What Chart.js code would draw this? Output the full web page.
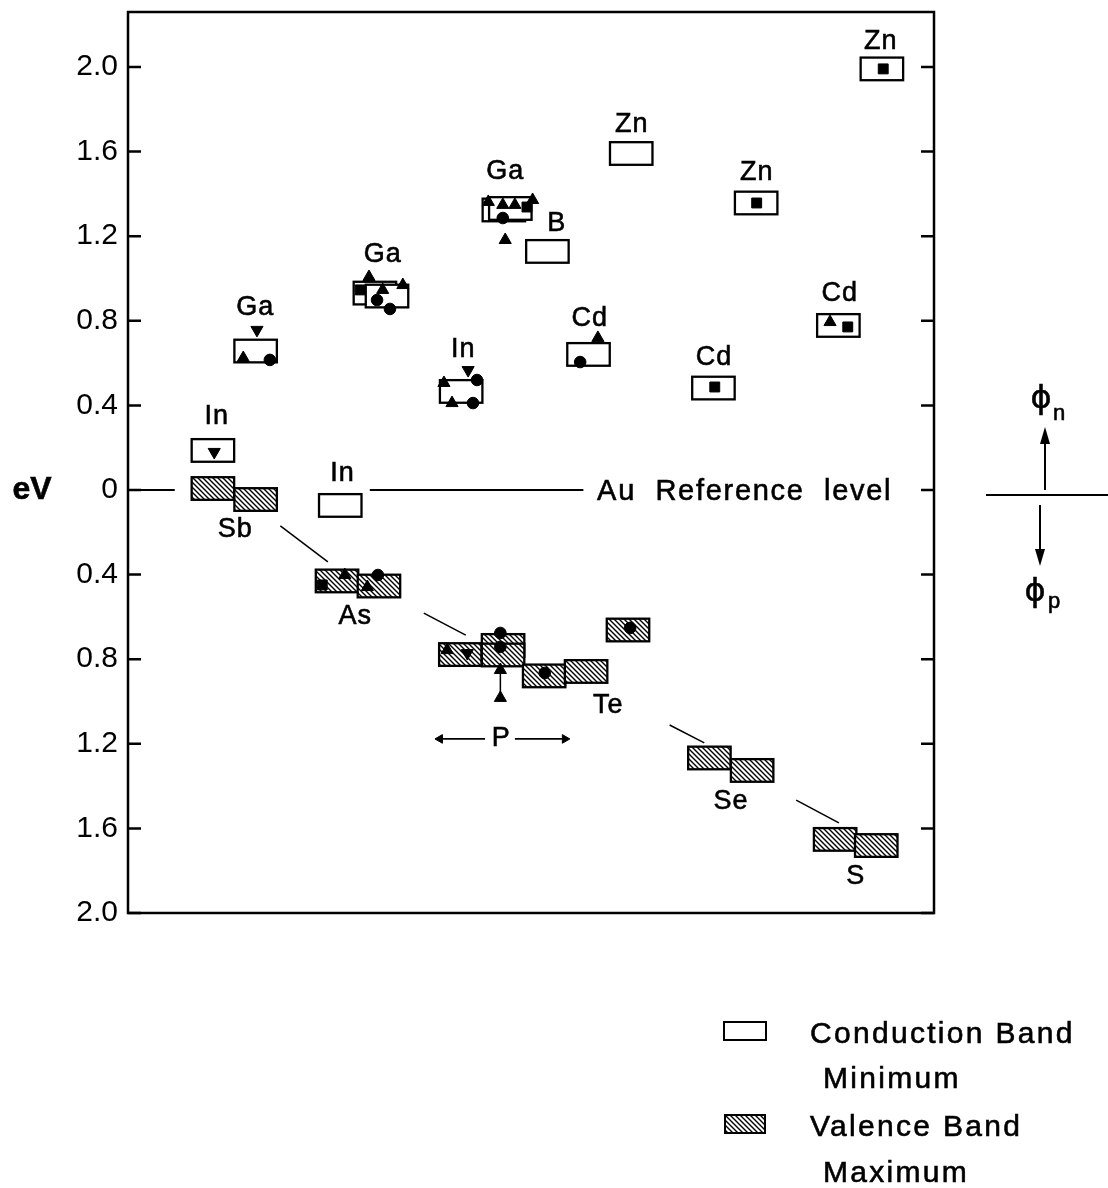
<!DOCTYPE html>
<html>
<head>
<meta charset="utf-8">
<script src="https://cdn.jsdelivr.net/npm/chart.js@4.4.1/dist/chart.umd.min.js"></script>
<style>
  body { margin: 0; background: #fff; }
  canvas { display: block; }
</style>
</head>
<body>
<canvas id="main_chart" width="1108" height="1188"></canvas>
<script>
// band edges relative to the Au reference level (eV)
const cbCompounds = ['InSb', 'GaSb', 'GaAs', 'GaAs', 'InAs', 'InP', 'GaP', 'GaP', 'BP', 'CdTe', 'ZnTe', 'CdSe', 'ZnSe', 'CdS', 'ZnS'];
const cbX = [7.9, 13.2, 28.0, 29.5, 23.7, 38.7, 44.0, 44.8, 49.4, 54.5, 59.8, 70.0, 75.3, 85.5, 90.9];
const cbValues = [0.187, 0.657, 0.931, 0.917, -0.073, 0.466, 1.324, 1.331, 1.128, 0.641, 1.591, 0.482, 1.357, 0.778, 1.991];

const vbCompounds = ['InSb', 'GaSb', 'InAs', 'GaAs', 'InP', 'GaP', 'GaP', 'BP', 'CdTe', 'ZnTe', 'CdSe', 'ZnSe', 'CdS', 'ZnS'];
const vbX = [7.9, 13.2, 23.3, 28.5, 38.6, 43.9, 43.9, 49.0, 54.2, 59.4, 69.5, 74.8, 85.1, 90.2];
const vbValues = [0.007, -0.045, -0.430, -0.454, -0.778, -0.735, -0.780, -0.879, -0.858, -0.662, -1.267, -1.326, -1.652, -1.681];

// measured points (one array pair per symbol)
const triUpX = [14.3, 29.9, 34.1, 31.6, 39.2, 40.2, 44.7, 46.5, 48.0, 50.2, 46.8, 58.3, 87.1, 26.9, 29.7, 39.6, 46.2, 46.2];
const triUpY = [0.624, 1.007, 0.969, 0.946, 0.506, 0.411, 1.362, 1.348, 1.348, 1.371, 1.182, 0.719, 0.794, -0.402, -0.459, -0.757, -0.851, -0.983];
const triDownX = [10.7, 16.0, 42.2, 42.1];
const triDownY = [0.180, 0.757, 0.567, -0.771];
const circleX = [17.6, 32.5, 30.9, 43.3, 42.8, 46.5, 56.1, 31.0, 46.2, 46.2, 51.7, 62.3];
const circleY = [0.615, 0.856, 0.898, 0.520, 0.411, 1.286, 0.605, -0.402, -0.676, -0.742, -0.865, -0.652];
const squareX = [28.8, 72.8, 78.0, 89.3, 93.7, 24.1, 49.5];
const squareY = [0.946, 0.487, 1.357, 0.771, 1.991, -0.449, 1.338];

// element names
const cationLabels = ['In', 'Ga', 'Ga', 'In', 'In', 'Ga', 'B', 'Cd', 'Zn', 'Cd', 'Zn', 'Cd', 'Zn'];
const cationX = [11.0, 15.8, 31.6, 26.6, 41.6, 46.8, 53.2, 57.3, 62.5, 72.7, 78.0, 88.3, 93.4];
const cationY = [0.345, 0.861, 1.111, 0.076, 0.662, 1.508, 1.262, 0.809, 1.730, 0.624, 1.499, 0.927, 2.118];
const anionLabels = ['Sb', 'As', 'Te', 'Se', 'S', 'P'];
const anionX = [13.3, 28.2, 59.6, 74.8, 90.3, 46.3];
const anionY = [-0.189, -0.600, -1.017, -1.475, -1.830, -1.177];

// thin guide lines between the anion groups
const connectorX = [[18.9, 24.8], [36.7, 41.9], [67.2, 71.5], [82.9, 88.2]];
const connectorY = [[-0.170, -0.340], [-0.582, -0.686], [-1.111, -1.196], [-1.466, -1.574]];
const refLineX = [[0, 5.8], [30.0, 56.5]];
const pArrowX = [[44.3, 38.7], [48.0, 54.2]];
const pArrowY = -1.177;
const gapArrowX = 46.2;
const gapArrowY = [-0.84, -0.98];

const yTicks = [-2.0, -1.6, -1.2, -0.8, -0.4, 0, 0.4, 0.8, 1.2, 1.6, 2.0];

const BOX_W = 5.27;   // x units
const BOX_H = 0.107;  // eV
const FONT = 'Liberation Sans';

function makeHatch(ctx) {
  const c = document.createElement('canvas');
  c.width = c.height = 5;
  const g = c.getContext('2d');
  g.fillStyle = '#fff';
  g.fillRect(0, 0, 5, 5);
  g.strokeStyle = '#000';
  g.lineWidth = 1.4;
  g.beginPath();
  g.moveTo(-1, -1); g.lineTo(6, 6);
  g.moveTo(-1, 4); g.lineTo(1, 6);
  g.moveTo(4, -1); g.lineTo(6, 1);
  g.stroke();
  return ctx.createPattern(c, 'repeat');
}

// text with a faint outline so it reads as heavy as the pen lettering
function drawText(ctx, s, px, py, font, align = 'center', spacing = '0px') {
  ctx.save();
  ctx.font = font;
  ctx.letterSpacing = spacing;
  ctx.fillStyle = '#000';
  ctx.strokeStyle = '#000';
  ctx.lineWidth = 0.6;
  ctx.textAlign = align;
  ctx.textBaseline = 'middle';
  ctx.fillText(s, px, py);
  ctx.strokeText(s, px, py);
  ctx.restore();
}

function drawBox(ctx, x, y, left, value, fill) {
  const x0 = x.getPixelForValue(left);
  const x1 = x.getPixelForValue(left + BOX_W);
  const y0 = y.getPixelForValue(value + BOX_H / 2);
  const y1 = y.getPixelForValue(value - BOX_H / 2);
  ctx.fillStyle = fill;
  ctx.fillRect(x0, y0, x1 - x0, y1 - y0);
  ctx.strokeRect(x0, y0, x1 - x0, y1 - y0);
}

function arrowHead(ctx, tipX, tipY, dir, len, half) {
  ctx.beginPath();
  ctx.moveTo(tipX, tipY);
  ctx.lineTo(tipX - half, tipY - dir * len);
  ctx.lineTo(tipX + half, tipY - dir * len);
  ctx.closePath();
  ctx.fill();
}

const figurePlugin = {
  id: 'figure',
  beforeDatasetsDraw(chart) {
    const {ctx, scales: {x, y}} = chart;
    const hatch = makeHatch(ctx);
    ctx.save();
    ctx.strokeStyle = '#000';
    ctx.lineWidth = 2.3;
    cbX.forEach((left, i) => drawBox(ctx, x, y, left, cbValues[i], '#fff'));
    vbX.forEach((left, i) => drawBox(ctx, x, y, left, vbValues[i], hatch));
    ctx.restore();
  },
  afterDatasetsDraw(chart) {
    const {ctx, chartArea: a, scales: {x, y}} = chart;
    const hatch = makeHatch(ctx);
    ctx.save();
    // frame and inward ticks
    ctx.strokeStyle = '#000';
    ctx.lineWidth = 2.5;
    ctx.strokeRect(a.left, a.top, a.right - a.left, a.bottom - a.top);
    y.ticks.forEach(t => {
      const py = y.getPixelForValue(t.value);
      ctx.beginPath();
      ctx.moveTo(a.left, py); ctx.lineTo(a.left + 13, py);
      ctx.moveTo(a.right - 13, py); ctx.lineTo(a.right, py);
      ctx.stroke();
    });

    // element names
    cationLabels.forEach((s, i) =>
      drawText(ctx, s, x.getPixelForValue(cationX[i]), y.getPixelForValue(cationY[i]), `27px ${FONT}`, 'center', '1px'));
    anionLabels.forEach((s, i) =>
      drawText(ctx, s, x.getPixelForValue(anionX[i]), y.getPixelForValue(anionY[i]), `27px ${FONT}`, 'center', '1px'));
    drawText(ctx, 'Au  Reference  level', x.getPixelForValue(58.2), y.getPixelForValue(0) + 2, `29px ${FONT}`, 'left', '1.7px');

    // axis name
    const zeroY = y.getPixelForValue(0);
    drawText(ctx, 'eV', 32, zeroY, `bold 32px ${FONT}`);

    // phi_n / phi_p sketch to the right of the frame
    const rx = a.right;
    const W = chart.width;
    ctx.lineWidth = 2;
    ctx.fillStyle = '#000';
    ctx.beginPath();
    ctx.moveTo(rx + 52, zeroY + 5); ctx.lineTo(W, zeroY + 5);
    ctx.moveTo(rx + 111, zeroY); ctx.lineTo(rx + 111, zeroY - 50);
    ctx.moveTo(rx + 106, zeroY + 15); ctx.lineTo(rx + 106, zeroY + 62);
    ctx.stroke();
    arrowHead(ctx, rx + 111, zeroY - 63, -1, 17, 5);
    arrowHead(ctx, rx + 106, zeroY + 76, 1, 17, 5);
    drawText(ctx, '\u03D5', rx + 107, zeroY - 90, `32px DejaVu Sans`);
    drawText(ctx, 'n', rx + 125, zeroY - 76, `22px ${FONT}`);
    drawText(ctx, '\u03D5', rx + 101, zeroY + 103, `32px DejaVu Sans`);
    drawText(ctx, 'p', rx + 120, zeroY + 112, `22px ${FONT}`);

    // legend
    ctx.lineWidth = 2;
    ctx.strokeRect(724, 1022, 42, 18);
    ctx.fillStyle = hatch;
    ctx.fillRect(725, 1115, 40, 18);
    ctx.strokeRect(725, 1115, 40, 18);
    drawText(ctx, 'Conduction Band', 810, 1035, `30px ${FONT}`, 'left', '2.3px');
    drawText(ctx, 'Minimum', 823, 1080, `30px ${FONT}`, 'left', '2.3px');
    drawText(ctx, 'Valence Band', 810, 1128, `30px ${FONT}`, 'left', '2.3px');
    drawText(ctx, 'Maximum', 823, 1174, `30px ${FONT}`, 'left', '2.3px');
    ctx.restore();
  }
};

const pts = (xs, ys) => xs.map((v, i) => ({x: v, y: ys[i]}));
const lineSet = (data, width) => ({
  data, showLine: true, borderColor: '#000', borderWidth: width, pointRadius: 0, order: 2
});
const markerSet = (data, style, radius, rotation = 0) => ({
  data, pointStyle: style, pointRadius: radius, pointRotation: rotation,
  backgroundColor: '#000', borderColor: '#000', borderWidth: 1, order: 1
});

const datasets = [
  ...connectorX.map((xs, i) => lineSet(pts(xs, connectorY[i]), 1.5)),
  ...refLineX.map(xs => lineSet(pts(xs, [0, 0]), 2)),
  ...pArrowX.map(xs => lineSet(pts(xs, [pArrowY, pArrowY]), 1.8)),
  lineSet(pts([gapArrowX, gapArrowX], gapArrowY), 1.5),
  markerSet(pts([pArrowX[0][1]], [pArrowY]), 'triangle', 5, -90),
  markerSet(pts([pArrowX[1][1]], [pArrowY]), 'triangle', 5, 90),
  markerSet(pts(triUpX, triUpY), 'triangle', 7),
  markerSet(pts(triDownX, triDownY), 'triangle', 7, 180),
  markerSet(pts(circleX, circleY), 'circle', 5.8),
  markerSet(pts(squareX, squareY), 'rect', 7)
];

new Chart(document.getElementById('main_chart'), {
  type: 'scatter',
  data: { datasets },
  options: {
    responsive: false,
    animation: false,
    devicePixelRatio: 1,
    layout: { padding: { left: 0, top: 12, right: 174, bottom: 275 } },
    plugins: { legend: { display: false }, tooltip: { enabled: false } },
    scales: {
      x: { type: 'linear', min: 0, max: 100, display: false },
      y: {
        min: -2.0,
        max: 2.26,
        border: { display: false },
        grid: { display: false, drawTicks: false },
        afterBuildTicks: scale => { scale.ticks = yTicks.map(v => ({ value: v })); },
        ticks: {
          color: '#000',
          font: { size: 30, family: FONT },
          padding: 10,
          callback: v => Math.abs(v) < 1e-6 ? '0' : Math.abs(v).toFixed(1)
        },
        afterFit: scale => { scale.width = 128; scale.paddingTop = 0; scale.paddingBottom = 0; }
      }
    }
  },
  plugins: [figurePlugin]
});
</script>
</body>
</html>
